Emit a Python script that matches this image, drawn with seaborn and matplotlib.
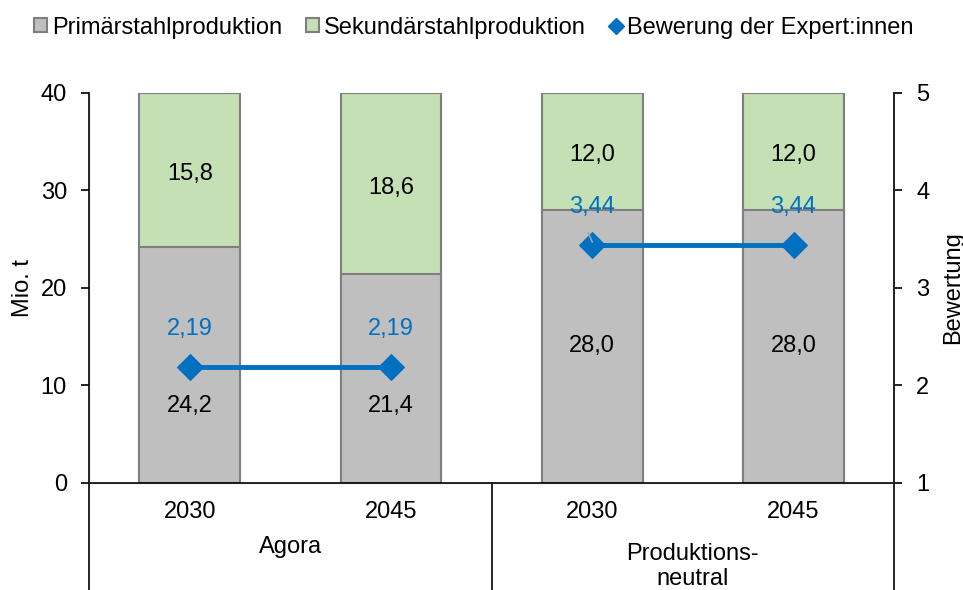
import numpy as np
import pandas as pd
import matplotlib.pyplot as plt
import seaborn as sns
from matplotlib.patches import Patch
from matplotlib.lines import Line2D

# data
groups = ['Agora', 'Agora', 'Produktions-\nneutral', 'Produktions-\nneutral']
years = ['2030', '2045', '2030', '2045']
primaer = [24.2, 21.4, 28.0, 28.0]
sekundaer = [15.8, 18.6, 12.0, 12.0]
bewertung = [2.19, 2.19, 3.44, 3.44]

df = pd.DataFrame({'group': groups, 'year': years,
                   'primaer': primaer, 'sekundaer': sekundaer,
                   'bewertung': bewertung})
df['key'] = df['group'] + ' ' + df['year']
df['total'] = df['primaer'] + df['sekundaer']
df['pos'] = np.arange(len(df))

sns.set_style('white')
plt.rcParams['font.family'] = ['Liberation Sans', 'DejaVu Sans']
for k in ['text.color', 'axes.labelcolor', 'xtick.color', 'ytick.color']:
    plt.rcParams[k] = 'black'
fs = 17

grey, green, edge, blue = '#BFBFBF', '#C5E0B4', '#7F7F7F', '#0070C0'

fig = plt.figure(figsize=(9.63, 5.9), dpi=100)
ax = fig.add_axes([0.0925, 0.1814, 0.836, 0.661])

# stacked bars: total (green) first, primary (grey) on top
sns.barplot(data=df, x='key', y='total', color=green, edgecolor=edge,
            linewidth=1.5, width=0.5, ax=ax, saturation=1)
sns.barplot(data=df, x='key', y='primaer', color=grey, edgecolor=edge,
            linewidth=1.5, width=0.5, ax=ax, saturation=1)

for i, row in df.iterrows():
    line_y = (row['bewertung'] - 1) * 10  # rating in left-axis units
    y_p = min(row['primaer'] / 2, line_y - 4.0)
    ax.text(i, y_p, f"{row['primaer']:.1f}".replace('.', ','),
            ha='center', va='center', fontsize=fs, color='black')
    ax.text(i, row['primaer'] + row['sekundaer'] / 2 - 0.4,
            f"{row['sekundaer']:.1f}".replace('.', ','),
            ha='center', va='center', fontsize=fs, color='black')

ax.set_xlim(-0.5, 3.5)
ax.set_ylim(0, 40)
ax.set_yticks([0, 10, 20, 30, 40])
ax.set_ylabel('Mio. t', fontsize=fs, labelpad=5)
ax.set_xlabel('')
ax.set_xticks(df['pos'])
ax.set_xticklabels(df['year'], fontsize=fs)
ax.tick_params(axis='x', length=0, pad=13)
ax.tick_params(axis='y', labelsize=fs, length=6, width=1.2, direction='out', left=True, pad=10)
ax.spines['top'].set_visible(False)
for s in ['left', 'bottom', 'right']:
    ax.spines[s].set_color('black')
    ax.spines[s].set_linewidth(1.2)

# right axis with ratings
ax2 = ax.twinx()
sns.lineplot(data=df, x='pos', y='bewertung', units='group', estimator=None,
             color=blue, linewidth=3.5, marker='D', markersize=13,
             markeredgecolor=blue, ax=ax2, legend=False)
ax2.set_ylim(1, 5)
ax2.set_yticks([1, 2, 3, 4, 5])
ax2.set_ylabel('Bewertung', fontsize=fs, labelpad=9)
ax2.tick_params(axis='y', labelsize=fs, length=6, width=1.2, direction='out', right=True, pad=10)
ax2.spines['top'].set_visible(False)
ax2.spines['right'].set_linewidth(1.2)
ax2.set_xlim(-0.5, 3.5)
ax2.set_xlabel('')

for i, row in df.iterrows():
    ax2.text(i, row['bewertung'] + 0.39, f"{row['bewertung']:.2f}".replace('.', ','),
             ha='center', va='center', fontsize=fs, color=blue)

# little leader line at first 3,44 label
ax2.plot([1.98, 2.0], [3.57, 3.47], color='#A6A6A6', linewidth=1.2)

# group separators and group labels
trans = ax.get_xaxis_transform()
for xs in [-0.5, 1.5, 3.5]:
    ax.plot([xs, xs], [0, -0.3], color='black', linewidth=1.2,
            transform=trans, clip_on=False)
ax.text(0.5, -0.164, 'Agora', transform=trans, ha='center', va='center', fontsize=fs)
ax.text(2.5, -0.214, 'Produktions-\nneutral', transform=trans, ha='center',
        va='center', fontsize=fs, linespacing=1.17)

handles = [Patch(facecolor=grey, edgecolor=edge, linewidth=1.5),
           Patch(facecolor=green, edgecolor=edge, linewidth=1.5),
           Line2D([], [], color=blue, marker='D', linestyle='none', markersize=8)]
fig.legend(handles, ['Primärstahlproduktion', 'Sekundärstahlproduktion',
                     'Bewerung der Expert:innen'],
           loc='center', bbox_to_anchor=(0.492, 0.953), ncol=3, frameon=False,
           fontsize=fs, handlelength=0.55, handleheight=0.55, handletextpad=0.2,
           columnspacing=1.0)

plt.savefig('out.png', dpi=100)
